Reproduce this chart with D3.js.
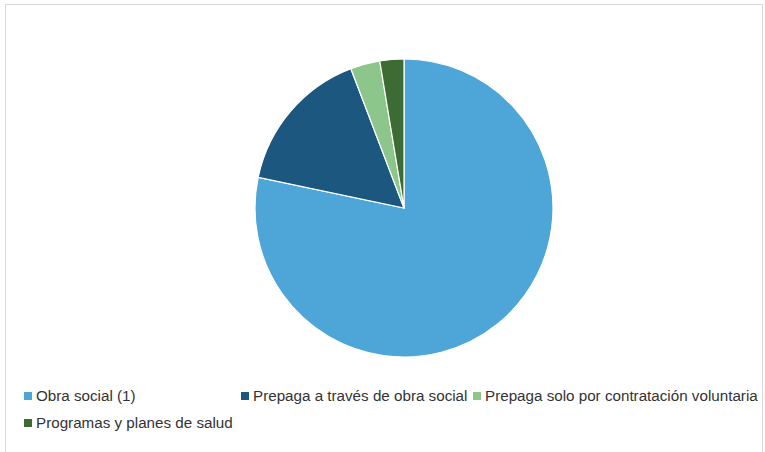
<!DOCTYPE html>
<html>
<head>
<meta charset="utf-8">
<script src="https://cdn.jsdelivr.net/npm/d3@7"></script>
<style>
  body { margin: 0; background: #fff; }
  svg { display: block; font-family: "Liberation Sans", Arial, sans-serif; }
</style>
</head>
<body>
<script>
// Data (percent of population by health coverage)
const categories = [
  "Obra social (1)",
  "Prepaga a través de obra social",
  "Prepaga solo por contratación voluntaria",
  "Programas y planes de salud"
];
const values = [78.3, 15.9, 3.2, 2.6];
const colors = ["#4da5d8", "#1c5780", "#8cc68a", "#3d6b34"];

const w = 765;
const h = 452;

const svg = d3.select("body")
  .append("svg")
  .attr("width", w)
  .attr("height", h);

// Outer frame
svg.append("rect")
  .attr("x", 5.5)
  .attr("y", 4.5)
  .attr("width", 757)
  .attr("height", 460)
  .attr("fill", "#fff")
  .attr("stroke", "#d9d9d9");

const cx = 404;
const cy = 208;
const radius = 149;

const color = d3.scaleOrdinal().domain(categories).range(colors);

const pie = d3.pie()
  .sort(null)
  .value(d => d.value);

const arc = d3.arc()
  .innerRadius(0)
  .outerRadius(radius);

const data = categories.map((c, i) => ({ name: c, value: values[i] }));

svg.append("g")
  .attr("transform", `translate(${cx},${cy})`)
  .selectAll("path")
  .data(pie(data))
  .enter()
  .append("path")
  .attr("d", arc)
  .attr("fill", d => color(d.data.name))
  .attr("stroke", "#fff")
  .attr("stroke-width", 1.2);

// Legend
const legendPos = [[24, 396], [241, 396], [473, 396], [24, 423]];

const legend = svg.append("g")
  .selectAll("g")
  .data(categories)
  .enter()
  .append("g")
  .attr("transform", (d, i) => `translate(${legendPos[i][0]},${legendPos[i][1]})`);

legend.append("rect")
  .attr("x", 0)
  .attr("y", -4)
  .attr("width", 8)
  .attr("height", 8)
  .attr("fill", d => color(d));

legend.append("text")
  .attr("x", 12)
  .attr("y", 0)
  .attr("dy", "0.35em")
  .attr("font-size", 15.2)
  .attr("fill", "#333")
  .text(d => d);
</script>
</body>
</html>
